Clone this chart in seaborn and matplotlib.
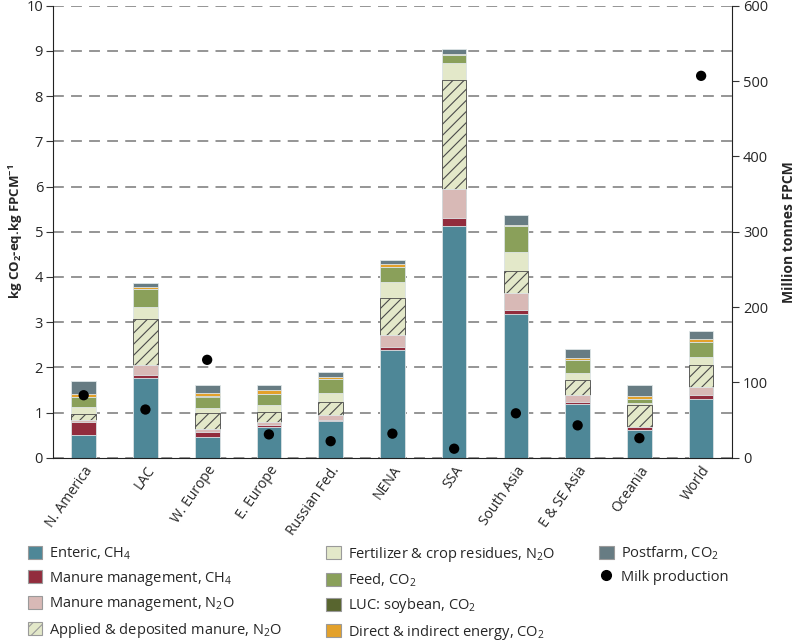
import numpy as np
import pandas as pd
import seaborn as sns
import matplotlib.pyplot as plt
from matplotlib.patches import Patch
from matplotlib.lines import Line2D

regions = ["N. America", "LAC", "W. Europe", "E. Europe", "Russian Fed.", "NENA",
           "SSA", "South Asia", "E & SE Asia", "Oceania", "World"]

# emission intensity per source, kg CO2-eq per kg FPCM
enteric_ch4 = [0.50, 1.77, 0.47, 0.68, 0.82, 2.39, 5.13, 3.18, 1.20, 0.61, 1.31]
manure_ch4 = [0.30, 0.05, 0.10, 0.04, 0.02, 0.07, 0.18, 0.09, 0.04, 0.06, 0.07]
manure_n2o = [0.04, 0.23, 0.06, 0.08, 0.10, 0.25, 0.64, 0.38, 0.15, 0.01, 0.18]
applied_n2o = [0.12, 1.02, 0.35, 0.22, 0.29, 0.83, 2.40, 0.49, 0.32, 0.48, 0.49]
fertilizer_n2o = [0.16, 0.26, 0.11, 0.15, 0.21, 0.34, 0.39, 0.41, 0.17, 0.06, 0.19]
feed_co2 = [0.22, 0.40, 0.26, 0.25, 0.31, 0.35, 0.16, 0.57, 0.28, 0.07, 0.31]
luc_co2 = [0.00, 0.00, 0.02, 0.00, 0.00, 0.00, 0.00, 0.00, 0.00, 0.00, 0.01]
energy_co2 = [0.08, 0.05, 0.07, 0.07, 0.04, 0.06, 0.04, 0.04, 0.05, 0.07, 0.07]
postfarm_co2 = [0.27, 0.08, 0.18, 0.11, 0.10, 0.08, 0.10, 0.20, 0.20, 0.25, 0.17]

# milk production, million tonnes FPCM
milk = [83, 64, 130, 31, 22, 32, 12, 59, 43, 26, 507]

layers = [
    ("Enteric, CH$_4$", enteric_ch4, "#4e8797", None),
    ("Manure management, CH$_4$", manure_ch4, "#922c3d", None),
    ("Manure management, N$_2$O", manure_n2o, "#d8b9b6", None),
    ("Applied & deposited manure, N$_2$O", applied_n2o, "#e3e8c9", "///"),
    ("Fertilizer & crop residues, N$_2$O", fertilizer_n2o, "#e3e8c9", None),
    ("Feed, CO$_2$", feed_co2, "#8aa05a", None),
    ("LUC: soybean, CO$_2$", luc_co2, "#58652f", None),
    ("Direct & indirect energy, CO$_2$", energy_co2, "#e3a12b", None),
    ("Postfarm, CO$_2$", postfarm_co2, "#677c83", None),
]

sns.set_style("ticks")
plt.rcParams["font.family"] = ["Open Sans", "DejaVu Sans"]
plt.rcParams["mathtext.default"] = "regular"
plt.rcParams["hatch.linewidth"] = 0.8

df = pd.DataFrame({"region": regions})
cum = np.zeros(len(regions))
for name, vals, _, _ in layers:
    cum = cum + np.array(vals)
    df[name] = cum

fig = plt.figure(figsize=(8, 6.42), dpi=100)
ax = fig.add_axes([0.066, 0.287, 0.849, 0.704])

# draw cumulative totals from the top down so each layer covers the next
for name, vals, color, hatch in reversed(layers):
    edge = "#4a4a4a" if hatch else "#dfe6e8"
    sns.barplot(data=df, x="region", y=name, color=color, saturation=1, width=0.4,
                edgecolor=edge, linewidth=0.6, hatch=hatch, ax=ax)

ax.set_ylim(0, 10)
ax.set_yticks(range(0, 11))
ax.yaxis.grid(True, linestyle=(0, (6, 4)), color="#8c8c8c", linewidth=1.3)
ax.set_axisbelow(True)
ax.set_xlabel("")
ax.set_ylabel("kg CO$_2$-eq.kg FPCM$^{-1}$", fontweight="bold", fontsize=9.5)
ax.yaxis.set_label_coords(-0.041, 0.5)
ax.tick_params(axis="y", labelsize=10.5, length=5, pad=2, color="#333333")
ax.tick_params(axis="x", labelsize=10, length=0, pad=4)
plt.setp(ax.get_xticklabels(), rotation=55, ha="right", rotation_mode="anchor")
for s in ["left", "bottom"]:
    ax.spines[s].set_color("#222222")
ax.spines["top"].set_visible(False)
ax.spines["right"].set_visible(False)

ax2 = ax.twinx()
sns.scatterplot(x=np.arange(len(regions)), y=milk, color="black", s=55,
                edgecolor="none", ax=ax2, zorder=5)
ax2.set_ylim(0, 600)
ax2.set_yticks(range(0, 601, 100))
ax2.set_ylabel("Million tonnes FPCM", fontweight="bold", fontsize=10, labelpad=10)
ax2.tick_params(axis="y", labelsize=10.5, length=5, pad=3, color="#333333")
ax2.spines["top"].set_visible(False)
ax2.spines["left"].set_visible(False)
ax2.spines["bottom"].set_visible(False)
ax2.spines["right"].set_color("#222222")
ax.set_xlim(-0.5, len(regions) - 0.5)

handles = [Patch(facecolor=c, edgecolor="#9a9a9a", linewidth=0.8, hatch=h, label=n)
           for n, _, c, h in layers]
handles.append(Line2D([], [], marker="o", color="black", linestyle="none",
                      markersize=7, label="Milk production"))
# blanks so the third column holds only two entries
handles += [Patch(facecolor="none", edgecolor="none", label=" ") for _ in range(2)]
fig.legend(handles=handles, loc="upper left", bbox_to_anchor=(0.018, 0.172), ncol=3,
           frameon=False, fontsize=10.5, handlelength=1.0, handleheight=1.0,
           handletextpad=0.5, labelspacing=0.52, columnspacing=3.0)

fig.savefig("out.png", dpi=100)
